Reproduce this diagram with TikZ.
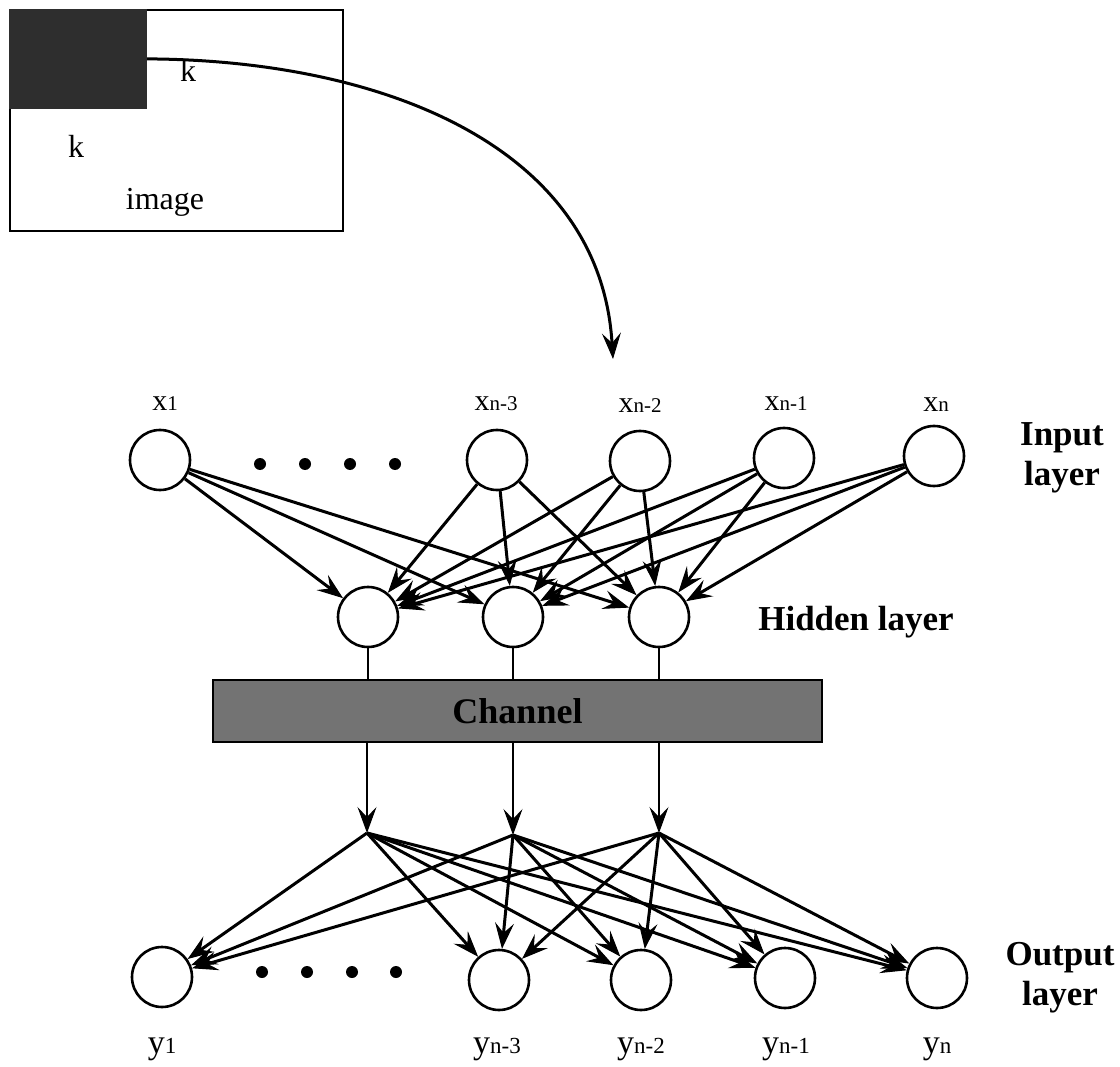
\documentclass[tikz,border=0pt]{standalone}
\usepackage{fontspec}
\setmainfont{Liberation Serif}
\usetikzlibrary{arrows.meta}

% small index set on the base line of the variable
\newcommand\lsub[1]{{\fontsize{21}{22}\selectfont #1}}
\newcommand\ysub[1]{{\fontsize{23}{24}\selectfont #1}}

\begin{document}
\begin{tikzpicture}[x=1pt,y=-1pt,
  tip/.tip={Stealth[length=26pt,width=19pt,inset=10pt,line width=1pt]},
  neuron/.style={circle,draw,line width=2.6pt,minimum size=60pt,inner sep=0pt},
  link/.style={line width=3pt,-tip},
  wire/.style={line width=2.6pt},
  xlbl/.style={font=\fontsize{30}{32}\selectfont,anchor=base},
  ylbl/.style={font=\fontsize{34}{38}\selectfont,anchor=base},
  layer/.style={font=\fontsize{35}{40}\selectfont\bfseries,align=center},
  txt/.style={font=\fontsize{32}{36}\selectfont},
  dot/.style={circle,fill,inner sep=0pt,minimum size=12pt}]

\useasboundingbox (0,0) rectangle (1120,1067);

% ---- image with the k x k window ----
\node[draw,line width=2.6pt,minimum width=333pt,minimum height=221pt,inner sep=0pt]
  (img) at (176.5,120.5) {};
\node[fill=black!82,minimum width=138pt,minimum height=100pt,inner sep=0pt,
  anchor=north west] (win) at (img.north west) {};
\node[txt] (k1) at (188,70) {k};
\node[txt] (k2) at (76,146) {k};
\node[txt] (imlabel) at (165,202) {image};

\coordinate (tgt) at (613,359);
\draw[line width=3pt,-tip]
  (win.east) .. controls (380,60) and (600,145) .. (tgt);

% ---- input layer ----
\node[neuron] (in1) at (160,460) {};
\node[neuron] (in2) at (497,460) {};
\node[neuron] (in3) at (640,461) {};
\node[neuron] (in4) at (784,458) {};
\node[neuron] (in5) at (934,456) {};
\foreach \x [count=\n] in {260,305,350,395}
  \node[dot] (idot\n) at (\x,464) {};

\node[xlbl] (lx1) at (165,411) {x\lsub{1}};
\node[xlbl] (lx2) at (496,411) {x\lsub{n-3}};
\node[xlbl] (lx3) at (640,413) {x\lsub{n-2}};
\node[xlbl] (lx4) at (786,411) {x\lsub{n-1}};
\node[xlbl] (lx5) at (936,412) {x\lsub{n}};
\node[layer] (tin) at (1062,458) {Input\\layer};

% ---- hidden layer ----
\node[neuron] (h1) at (368,617) {};
\node[neuron] (h2) at (513,617) {};
\node[neuron] (h3) at (659,617) {};
\node[layer] (thid) at (856,622) {Hidden layer};

\foreach \i in {1,...,5}
  \foreach \j in {1,2,3}
    \draw[link] (in\i) -- (h\j);

% ---- channel ----
\node[draw,line width=2.6pt,fill=black!55,minimum width=609pt,minimum height=62pt,
  inner sep=0pt,font=\fontsize{36}{40}\selectfont\bfseries] (ch) at (517.5,711) {Channel};

\coordinate (j1) at (367,833);
\coordinate (j2) at (513,835);
\coordinate (j3) at (659,833);

\foreach \j in {1,2,3} {
  \draw[wire] (h\j.south) -- (h\j.south |- ch.north);
  \draw[line width=2.6pt,-tip] (ch.south -| j\j) -- (j\j);
}

% ---- output layer ----
\node[neuron] (out1) at (162,977) {};
\node[neuron] (out2) at (499,980) {};
\node[neuron] (out3) at (641,980) {};
\node[neuron] (out4) at (785,978) {};
\node[neuron] (out5) at (937,978) {};
\foreach \x [count=\n] in {262,307,352,396}
  \node[dot] (odot\n) at (\x,972) {};

\foreach \j in {1,2,3}
  \foreach \k in {1,...,5}
    \draw[link] (j\j) -- (out\k);

\node[ylbl] (ly1) at (162,1053) {y\ysub{1}};
\node[ylbl] (ly2) at (497,1053) {y\ysub{n-3}};
\node[ylbl] (ly3) at (641,1053) {y\ysub{n-2}};
\node[ylbl] (ly4) at (786,1053) {y\ysub{n-1}};
\node[ylbl] (ly5) at (937,1053) {y\ysub{n}};
\node[layer] (tout) at (1060,978) {Output\\layer};

\end{tikzpicture}
\end{document}
